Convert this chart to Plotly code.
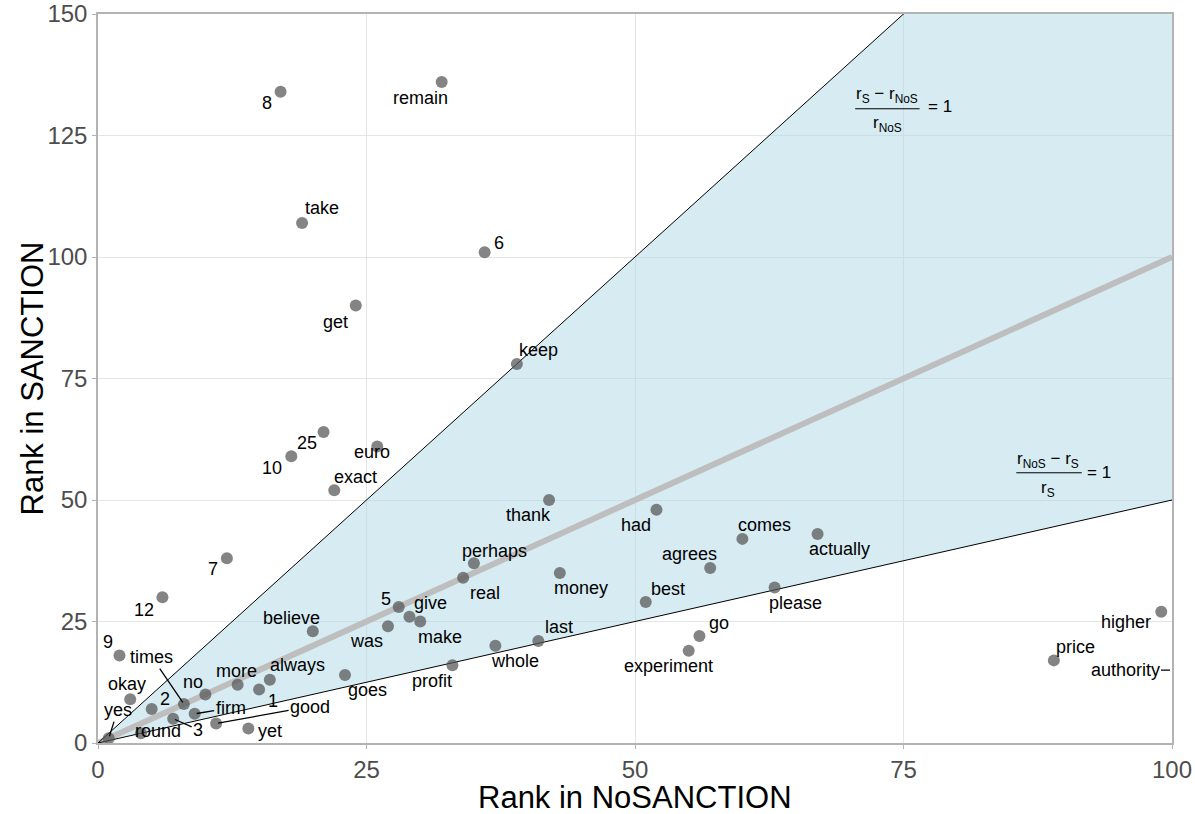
import plotly.graph_objects as go

# ---------------- data ----------------
words = ["8", "remain", "take", "6", "get", "keep", "25", "10", "euro", "exact",
         "thank", "had", "comes", "actually", "7", "perhaps", "agrees", "real", "money", "please",
         "12", "best", "5", "give", "was", "make", "believe", "higher", "last", "go",
         "whole", "experiment", "9", "price", "profit", "goes", "always", "more", "1", "no",
         "okay", "times", "2", "firm", "3", "good", "yet", "round", "yes", "authority"]
rank_nosanction = [17, 32, 19, 36, 24, 39, 21, 18, 26, 22,
                   42, 52, 60, 67, 12, 35, 57, 34, 43, 63,
                   6, 51, 28, 29, 27, 30, 20, 99, 41, 56,
                   37, 55, 2, 89, 33, 23, 16, 13, 15, 10,
                   3, 8, 5, 9, 7, 11, 14, 4, 1, 104]
rank_sanction = [134, 136, 107, 101, 90, 78, 64, 59, 61, 52,
                 50, 48, 42, 43, 38, 37, 36, 34, 35, 32,
                 30, 29, 28, 26, 24, 25, 23, 27, 21, 22,
                 20, 19, 18, 17, 16, 14, 13, 12, 11, 10,
                 9, 8, 7, 6, 5, 4, 3, 2, 1, 15]

x_ticks = [0, 25, 50, 75, 100]
y_ticks = [0, 25, 50, 75, 100, 125, 150]
x_title = "Rank in NoSANCTION"
y_title = "Rank in SANCTION"
x_max, y_max = 100, 150
ratio_upper = 2.0   # (rS - rNoS)/rNoS = 1  ->  rS = 2 rNoS
ratio_lower = 0.5   # (rNoS - rS)/rS = 1   ->  rS = rNoS / 2

# ---------------- label placement (pixel offsets, text centre minus point) ----------------
label_offsets = {
    "8": (-14, 11), "remain": (-21, 16), "take": (20, -15), "6": (14, -9), "get": (-20, 16),
    "keep": (22, -14), "25": (-17, 11), "10": (-19, 12), "euro": (-5, 5), "exact": (21, -13),
    "thank": (-21, 15), "had": (-20, 15), "comes": (22, -14), "actually": (22, 15), "7": (-14, 11),
    "perhaps": (21, -12), "agrees": (-21, -14), "real": (22, 15), "money": (21, 15), "please": (21, 16),
    "12": (-18, 13), "best": (22, -13), "5": (-13, -8), "give": (21, -14), "was": (-21, 15),
    "make": (20, 15), "believe": (-21, -13), "higher": (-35, 10), "last": (21, -14), "go": (20, -13),
    "whole": (20, 15), "experiment": (-20, 15), "9": (-11, -14), "price": (22, -13), "profit": (-20, 16),
    "goes": (22, 15), "always": (28, -15), "more": (-1, -14), "1": (14, 11), "no": (-12, -12),
    "okay": (-3, -15), "2": (13, -10), "yet": (22, 3), "round": (17, -2),
}
segment_labels = {  # labels joined to their point by a segment
    "times": (-32, -47), "firm": (36, -6), "3": (25, 11), "good": (94, -17),
    "yes": (9, -28), "authority": (-47, 0),
}

FONT = "Liberation Sans, Arial, Helvetica, sans-serif"
fig = go.Figure()

# shaded band between the two ratio lines
band_x = [0, y_max / ratio_upper, x_max, x_max, 0]
band_y = [0, y_max, y_max, x_max * ratio_lower, 0]
fig.add_trace(go.Scatter(x=band_x, y=band_y, fill="toself", mode="lines",
                         line=dict(width=0), fillcolor="rgba(173,216,230,0.5)",
                         hoverinfo="skip", showlegend=False))

# identity line
fig.add_trace(go.Scatter(x=[0, x_max], y=[0, x_max], mode="lines",
                         line=dict(color="#bebebe", width=6), hoverinfo="skip", showlegend=False))
# ratio lines
fig.add_trace(go.Scatter(x=[0, x_max], y=[0, x_max * ratio_upper], mode="lines",
                         line=dict(color="black", width=1), hoverinfo="skip", showlegend=False))
fig.add_trace(go.Scatter(x=[0, x_max], y=[0, x_max * ratio_lower], mode="lines",
                         line=dict(color="black", width=1), hoverinfo="skip", showlegend=False))

# points
fig.add_trace(go.Scatter(x=rank_nosanction, y=rank_sanction, mode="markers",
                         marker=dict(size=12, color="rgba(85,85,85,0.72)", line=dict(width=0)),
                         text=words, cliponaxis=True, showlegend=False))

annotations = []
for w, xv, yv in zip(words, rank_nosanction, rank_sanction):
    if w in segment_labels:
        ax, ay = segment_labels[w]
        annotations.append(dict(x=min(xv, x_max), y=yv, text=w, showarrow=True,
                                ax=ax, ay=ay, arrowhead=0, arrowwidth=1.3, arrowcolor="black",
                                standoff=2, font=dict(size=18, color="black", family=FONT)))
    else:
        dx, dy = label_offsets[w]
        annotations.append(dict(x=xv, y=yv, text=w, showarrow=False,
                                xshift=dx, yshift=-dy,
                                font=dict(size=18, color="black", family=FONT)))

# formulas
ffont = dict(size=17, color="black", family=FONT)
annotations += [
    dict(x=73.5, y=133.3, text="r<sub>S</sub> − r<sub>NoS</sub>", showarrow=False, font=ffont),
    dict(x=73.5, y=127.4, text="r<sub>NoS</sub>", showarrow=False, font=ffont),
    dict(x=78.4, y=130.9, text="= 1", showarrow=False, font=ffont),
    dict(x=88.5, y=58.2, text="r<sub>NoS</sub> − r<sub>S</sub>", showarrow=False, font=ffont),
    dict(x=88.5, y=52.2, text="r<sub>S</sub>", showarrow=False, font=ffont),
    dict(x=93.2, y=55.6, text="= 1", showarrow=False, font=ffont),
]
# axis titles
tfont = dict(size=31, color="black", family=FONT)
annotations += [
    dict(x=0.5, y=0, xref="paper", yref="paper", text=x_title, showarrow=False,
         yshift=-54, yanchor="middle", xanchor="center", font=tfont),
    dict(x=0, y=0.5, xref="paper", yref="paper", text=y_title, showarrow=False,
         xshift=-66, xanchor="center", yanchor="middle", textangle=-90, font=tfont),
]
shapes = [
    dict(type="line", x0=70.5, x1=76.5, y0=130.5, y1=130.5, line=dict(color="black", width=1)),
    dict(type="line", x0=85.5, x1=91.6, y0=55.6, y1=55.6, line=dict(color="black", width=1)),
]

axis_common = dict(showgrid=True, gridcolor="#e5e5e5", gridwidth=1, zeroline=False,
                   showline=True, linecolor="#b3b3b3", linewidth=1.5, mirror=True,
                   ticks="outside", ticklen=4, tickcolor="#b3b3b3", automargin=False,
                   ticklabeloverflow="allow",
                   tickfont=dict(size=24, color="#4d4d4d", family=FONT))
fig.update_layout(
    width=1195, height=814,
    margin=dict(l=98, r=23, t=14, b=71, autoexpand=False),
    plot_bgcolor="white", paper_bgcolor="white",
    xaxis=dict(range=[0, x_max], tickvals=x_ticks, **axis_common),
    yaxis=dict(range=[0, y_max], tickvals=y_ticks, **axis_common),
    annotations=annotations, shapes=shapes,
    showlegend=False,
)
# remove the default page margin so the figure sits at the window's top-left corner
fig.write_html("out.html", config={"displayModeBar": False},
               post_script="document.body.style.margin='0';document.body.style.overflow='hidden';")
